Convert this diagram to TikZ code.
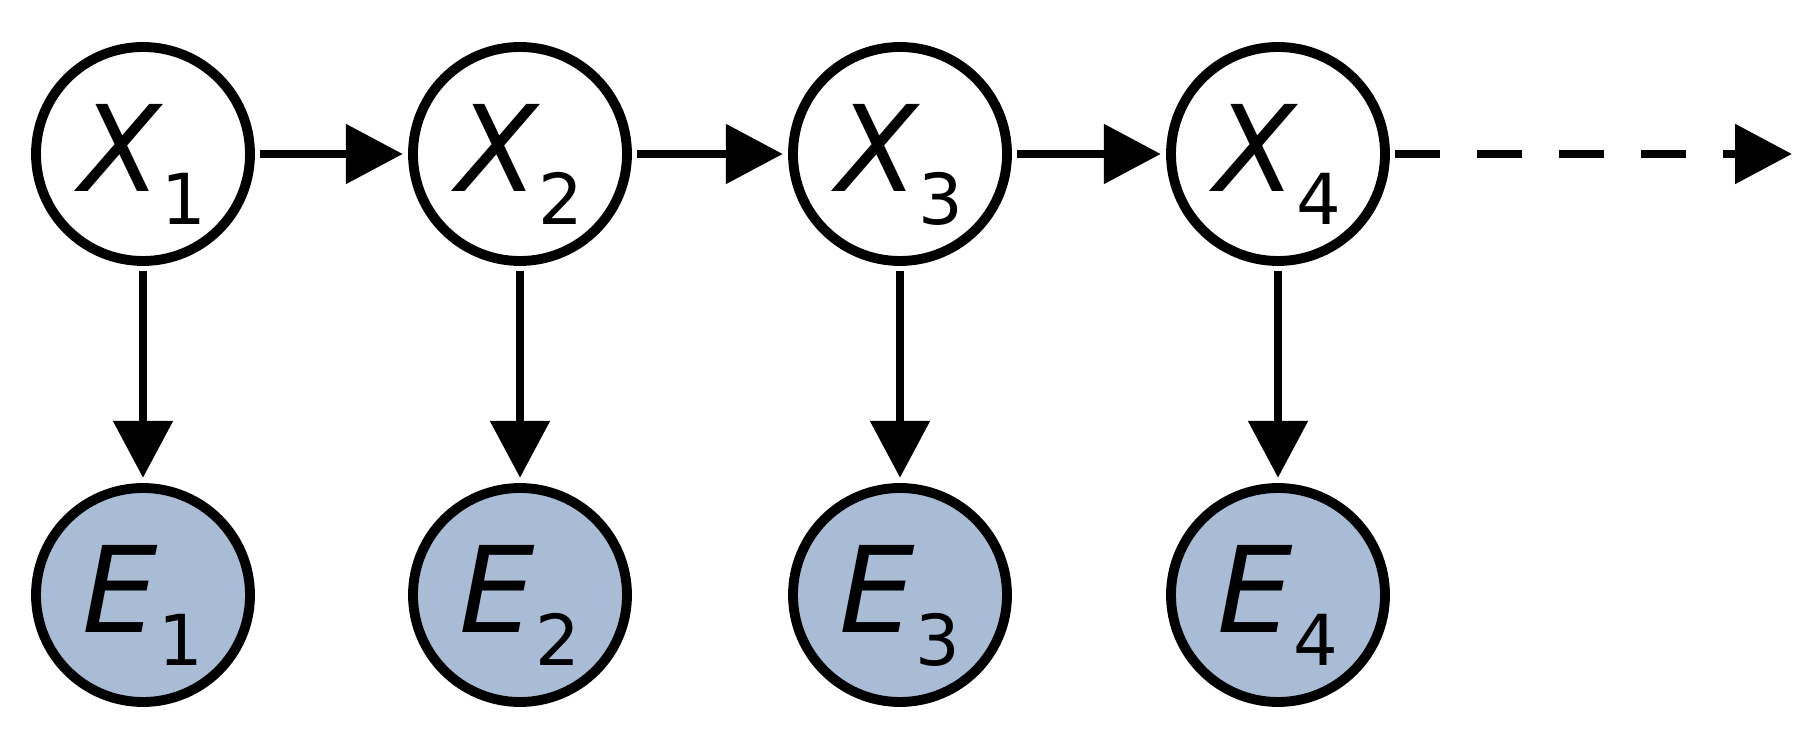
\documentclass[tikz,border=0pt]{standalone}
\usepackage{fontspec}
\setmainfont{DejaVu Sans}
\usetikzlibrary{arrows.meta}
\definecolor{evidblue}{HTML}{A8BCD6}
\tikzset{
  hidden/.style={circle,draw,line width=2.8pt,minimum size=2.14cm,inner sep=0pt,fill=white,
    text height=0.875cm,text depth=0.12cm},
  evid/.style={hidden,fill=evidblue},
  edge/.style={line width=2.5pt,-{Triangle[length=0.57cm,width=0.58cm]},
    shorten <=1.5pt,shorten >=1.5pt}
}
% variable name with its index
\newcommand{\rv}[2]{\fontsize{34}{34}\selectfont\itshape #1\raisebox{-0.33cm}{\fontsize{20}{20}\selectfont\upshape #2}}
\begin{document}
\begin{tikzpicture}
\useasboundingbox (0,0) rectangle (18.19,7.45);
\foreach \i/\x in {1/1.43,2/5.20,3/9.00,4/12.78}{
  \node[hidden] (X\i) at (\x,5.91) {\rv{X}{\i}};
  \node[evid] (E\i) at (\x,1.50) {\rv{E}{\i}};
  \draw[edge] (X\i) -- (E\i);
}
\foreach \i/\j in {1/2,2/3,3/4}
  \draw[edge] (X\i) -- (X\j);
\coordinate (next) at (17.92,5.91);
\draw[edge,shorten >=0pt,dash pattern=on 0.45cm off 0.37cm] (X4) -- (next);
\end{tikzpicture}
\end{document}
